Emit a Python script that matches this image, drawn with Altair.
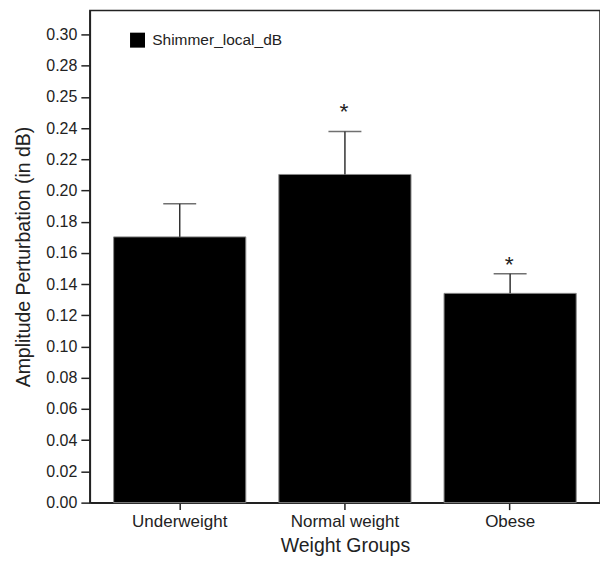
import altair as alt
import pandas as pd

groups = ["Underweight", "Normal weight", "Obese"]
means = [0.1703, 0.2103, 0.1341]
err_tops = [0.1915, 0.2378, 0.1467]
star_flags = ["", "*", "*"]
star_y = [0.0, 0.254, 0.156]
series_name = "Shimmer_local_dB"
y_ticks = [0.00, 0.02, 0.04, 0.06, 0.08, 0.10, 0.12, 0.14, 0.16, 0.18, 0.20, 0.22, 0.24, 0.26, 0.28, 0.30]

df = pd.DataFrame({
    "group": groups,
    "mean": means,
    "err": err_tops,
    "star": star_flags,
    "stary": star_y,
    "series": [series_name] * 3,
})

FONT = "Liberation Sans"
x_axis = alt.Axis(labelAngle=0, labelFontSize=17, titleFontSize=19.5,
                  titleFontWeight="normal",
                  labelColor="#222", titleColor="#222", labelFont=FONT, titleFont=FONT,
                  tickSize=7, tickColor="#222", domainColor="#222", labelPadding=4,
                  titlePadding=7, domainWidth=1.5, tickWidth=1.5)
x_scale = alt.Scale(paddingInner=0.2, paddingOuter=0.144)
y_axis = alt.Axis(values=y_ticks, grid=False, labelOverlap=False,
                  labelExpr="abs(datum.value - 0.26) < 0.001 ? '0.25' : format(datum.value, '.2f')",
                  labelFontSize=16, titleFontSize=19.5, titleFontWeight="normal",
                  labelColor="#222", titleColor="#222",
                  labelFont=FONT, titleFont=FONT, tickSize=9, tickColor="#222",
                  domainColor="#222", labelPadding=4, titlePadding=12,
                  domainWidth=1.5, tickWidth=1.5)
y_scale = alt.Scale(domain=[0, 0.3154], nice=False)
Y_TITLE = "Amplitude Perturbation (in dB)"
X_TITLE = "Weight Groups"


def xenc():
    return alt.X("group:N", sort=groups, title=X_TITLE, scale=x_scale, axis=x_axis)


def yenc(field):
    return alt.Y(field, scale=y_scale, title=Y_TITLE, axis=y_axis)


bars = alt.Chart(df).mark_bar(stroke="#888", strokeWidth=1).encode(
    x=xenc(),
    y=yenc("mean:Q"),
    color=alt.Color("series:N", scale=alt.Scale(range=["black"]),
                    legend=alt.Legend(title=None, orient="none", legendX=40, legendY=22,
                                      symbolType="square", symbolSize=225, symbolStrokeWidth=0,
                                      labelFontSize=15.5, labelFont=FONT, labelColor="#222",
                                      labelOffset=7)),
)

rules = alt.Chart(df).mark_rule(color="#333", strokeWidth=1.5).encode(
    x=xenc(),
    y=yenc("mean:Q"),
    y2="err:Q",
)

caps = alt.Chart(df).mark_tick(color="#333", thickness=1.5, size=33, orient="horizontal").encode(
    x=xenc(),
    y=yenc("err:Q"),
)

stars = alt.Chart(df).transform_filter("datum.star != ''").mark_text(
    fontSize=23, font=FONT, color="#222", baseline="middle", dy=6, dx=-1
).encode(
    x=xenc(),
    y=yenc("stary:Q"),
    text="star:N",
)

chart = alt.layer(bars, rules, caps, stars).properties(
    width=511, height=493,
    autosize=alt.AutoSizeParams(type="none"),
    padding={"left": 90, "top": 10, "right": 0, "bottom": 62},
).configure_view(stroke="#222", strokeWidth=1.5)

chart.save("out.html", embed_options={"renderer": "svg", "actions": False})
